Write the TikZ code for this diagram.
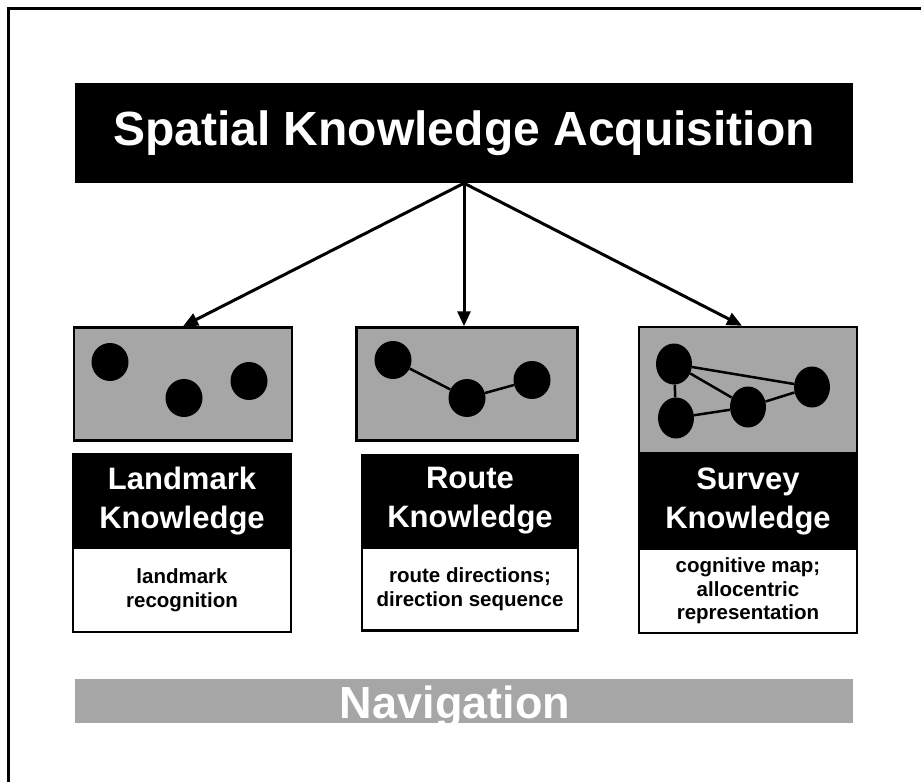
\documentclass[tikz,border=0pt]{standalone}
\usepackage{fontspec}
\setmainfont{Liberation Sans}
\usetikzlibrary{positioning,calc,arrows.meta,shapes.geometric}
\definecolor{mapgray}{RGB}{166,166,166}
\tikzset{
	titlebox/.style={fill=black, text=white, inner sep=0pt, minimum width=778pt, font=\fontsize{48}{58}\selectfont\bfseries},
	mapbox/.style={draw, line width=2.5pt, fill=mapgray, inner sep=0pt},
	headbox/.style={draw, line width=2.5pt, fill=black, text=white, align=center, inner sep=0pt, font=\fontsize{31}{39}\selectfont\bfseries},
	descbox/.style={draw, line width=2.5pt, fill=white, align=center, inner sep=0pt, font=\fontsize{20.5}{23.5}\selectfont\bfseries},
	spot/.style={ellipse, fill=black, inner sep=0pt, minimum width=37pt, minimum height=38pt},
	link/.style={line width=2.5pt},
	branch/.style={line width=3pt, -{Triangle[length=15pt,width=13pt]}},
}

\begin{document}
\begin{tikzpicture}[x=1pt, y=-1pt]
	\useasboundingbox (0,0) rectangle (921,782);
	\draw[line width=3pt] (8,782) -- (8,8) -- (921,8);

	\begin{scope}
		% title
		\node[titlebox, minimum height=100pt] (ska) at (464,133) {Spatial Knowledge Acquisition};

		% landmark
		\node[mapbox, minimum width=218pt, minimum height=113pt] (lmmap) at (183,384) {};
		\node[headbox, minimum width=218pt, minimum height=94pt] (lmhead) at (182,501) {Landmark\\Knowledge};
		\node[descbox, minimum width=218pt, minimum height=84pt] (lmdesc) at (182,590) {landmark\\recognition};
		\node[spot] (l1) at (110,362) {};
		\node[spot] (l2) at (184,398) {};
		\node[spot] (l3) at (249,381) {};

		% route
		\node[mapbox, minimum width=221pt, minimum height=113pt] (rtmap) at (467,384) {};
		\node[headbox, minimum width=216pt, minimum height=92pt] (rthead) at (470,501) {Route\\Knowledge};
		\node[descbox, minimum width=216pt, minimum height=83pt] (rtdesc) at (470,589) {route directions;\\direction sequence};
		\node[spot] (r1) at (393,360) {};
		\node[spot] (r2) at (467,398) {};
		\node[spot] (r3) at (532,380) {};
		\draw[link] (r1) -- (r2);
		\draw[link] (r2) -- (r3);

		% survey
		\node[mapbox, minimum width=218pt, minimum height=126pt] (svmap) at (748,390) {};
		\node[headbox, minimum width=218pt, minimum height=96pt] (svhead) at (748,501) {Survey\\Knowledge};
		\node[descbox, minimum width=218pt, minimum height=84pt] (svdesc) at (748,591) {cognitive map;\\allocentric\\representation};
		\node[spot, minimum width=36pt, minimum height=41pt] (s1) at (674,364) {};
		\node[spot, minimum width=36pt, minimum height=41pt] (s2) at (676,418) {};
		\node[spot, minimum width=36pt, minimum height=41pt] (s3) at (748,407) {};
		\node[spot, minimum width=36pt, minimum height=41pt] (s4) at (812,387) {};
		\draw[link] (s1) -- (s2);
		\draw[link] (s1) -- (s3);
		\draw[link] (s1) -- (s4);
		\draw[link] (s2) -- (s3);
		\draw[link] (s3) -- (s4);

		\draw[branch] (ska.south) -- (lmmap.north);
		\draw[branch] (ska.south) -- (ska.south |- rtmap.north);
		\draw[branch] (ska.south) -- ($(svmap.north)+(-6,0)$);

		% bottom bar
		\node[titlebox, fill=mapgray, minimum height=44pt] (nav) at (464,701) {};
		\node[text=white, inner sep=0pt, text depth=0pt, font=\fontsize{45}{54}\selectfont\bfseries] (navtext) at (455,702) {Navigation};
	\end{scope}
\end{tikzpicture}
\end{document}
